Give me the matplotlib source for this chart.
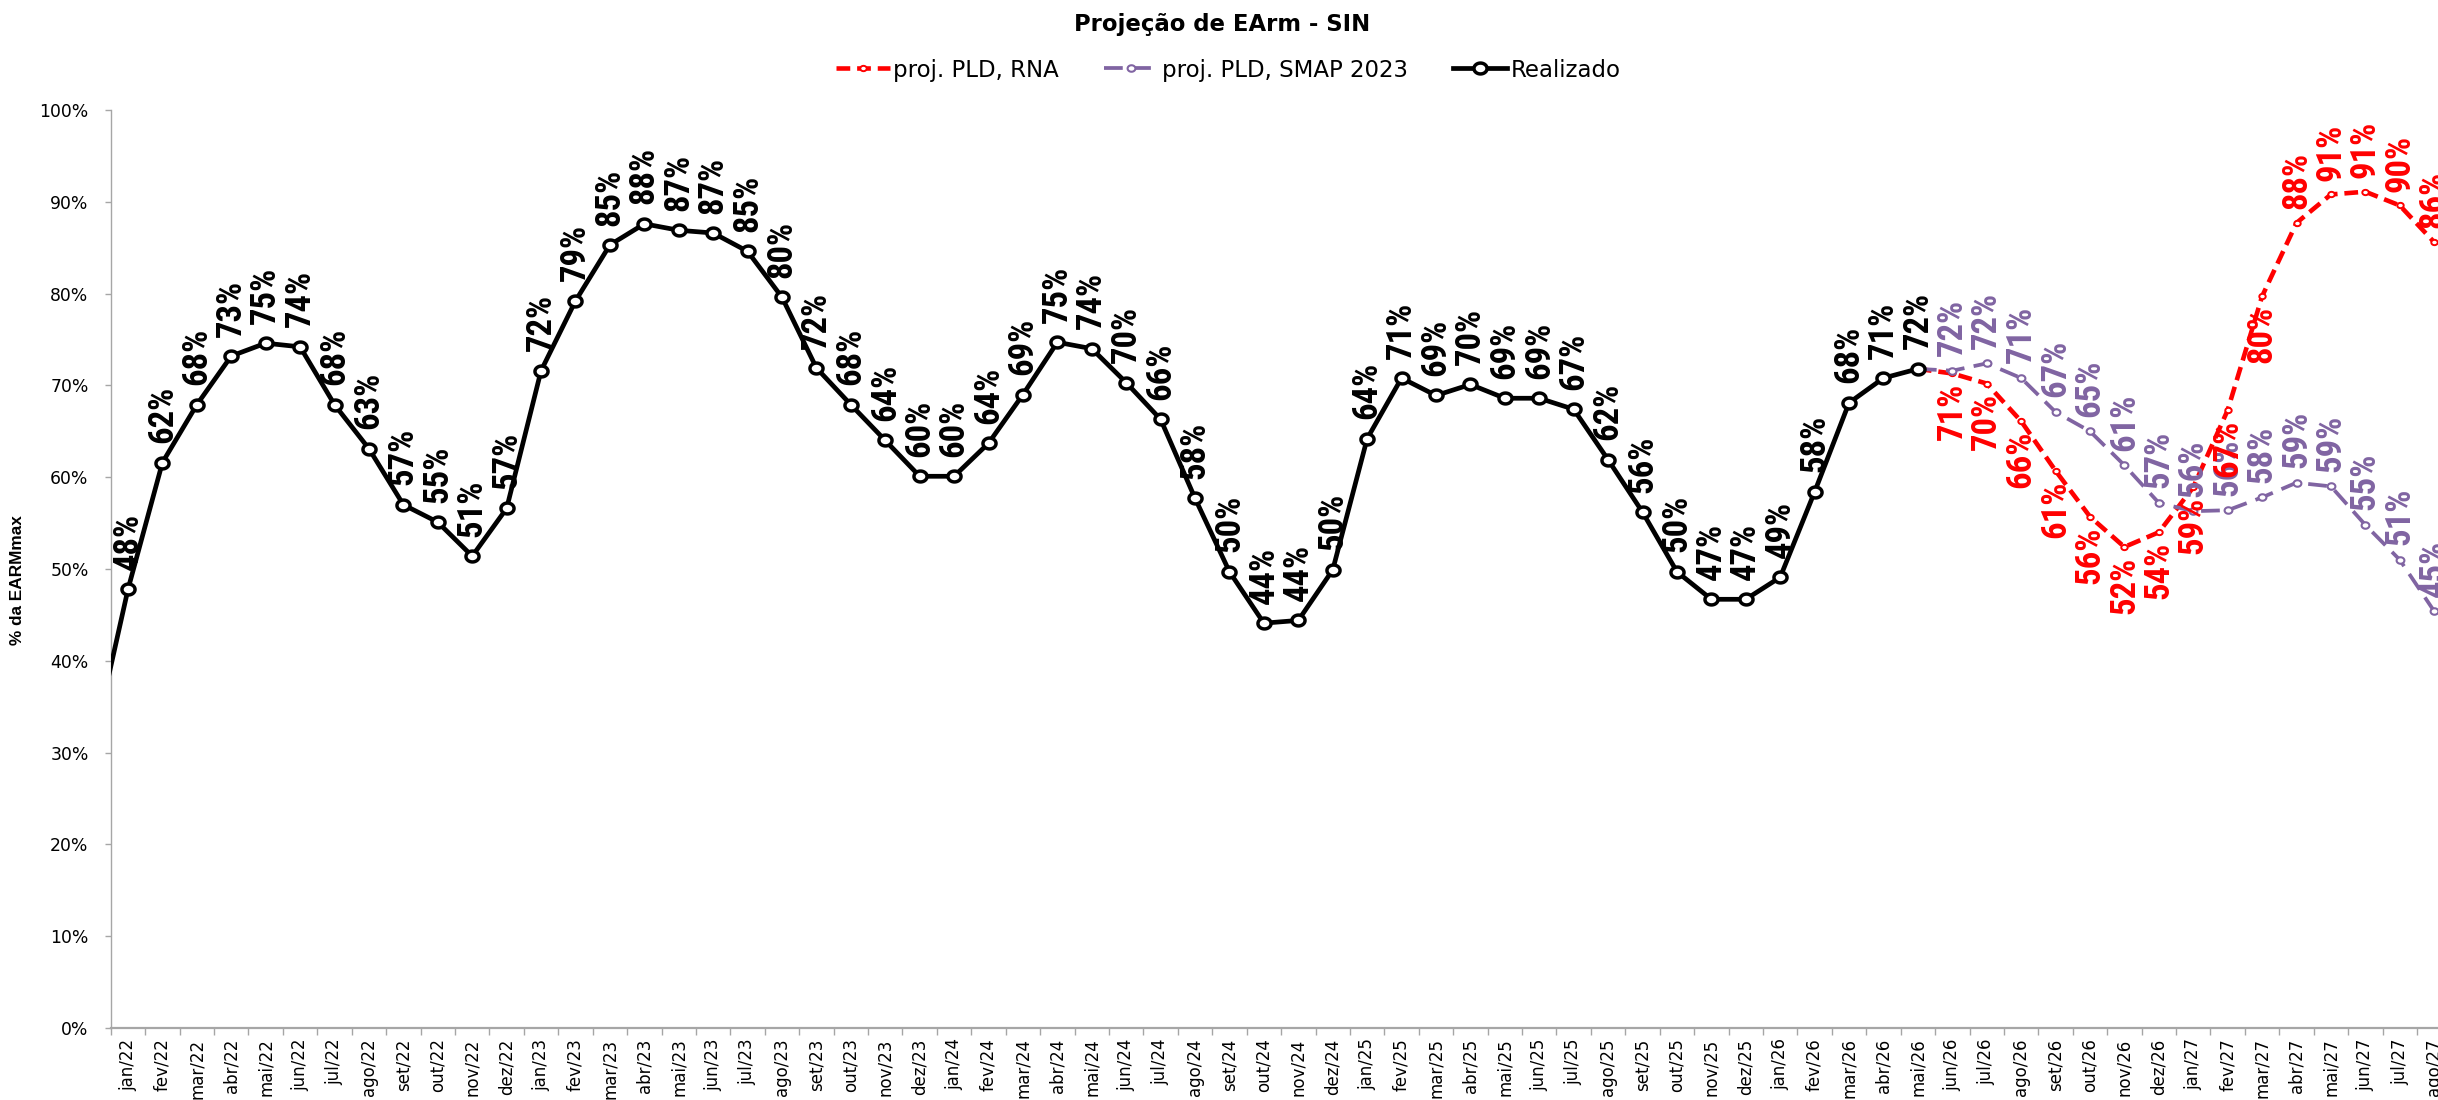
import numpy as np
import matplotlib
matplotlib.use("Agg")
import matplotlib.pyplot as plt
from matplotlib.path import Path
from matplotlib.textpath import TextPath
from matplotlib.font_manager import FontProperties, fontManager

# ---- data -------------------------------------------------------------
MONTHS = ["jan", "fev", "mar", "abr", "mai", "jun",
          "jul", "ago", "set", "out", "nov", "dez"]
YEARS = ["22", "23", "24", "25", "26", "27"]

# category axis: dez/21 ... ago/27
CATEGORIES = (["dez/21"] + [f"{m}/{y}" for y in YEARS for m in MONTHS])[:69]

# stored energy (% of EARMmax), dez/21 .. mai/26
REALIZADO = [31.0,
             47.8, 61.6, 67.9, 73.2, 74.6, 74.2, 67.9, 63.1, 57.0, 55.1, 51.4, 56.6,
             71.6, 79.2, 85.3, 87.6, 86.9, 86.6, 84.6, 79.6, 71.9, 67.9, 64.0, 60.1,
             60.1, 63.7, 69.0, 74.7, 74.0, 70.3, 66.3, 57.7, 49.7, 44.1, 44.4, 49.9,
             64.2, 70.8, 68.9, 70.1, 68.6, 68.6, 67.4, 61.9, 56.2, 49.7, 46.7, 46.7,
             49.1, 58.4, 68.1, 70.8, 71.8]

# projections, mai/26 .. ago/27
PROJ_RNA = [71.8, 71.3, 70.2, 66.1, 60.7, 55.7, 52.4, 54.0, 58.9,
            67.3, 79.7, 87.7, 90.8, 91.1, 89.6, 85.6]
PROJ_SMAP = [71.8, 71.6, 72.4, 70.8, 67.1, 65.0, 61.3, 57.2, 56.3,
             56.4, 57.8, 59.4, 59.0, 54.8, 51.0, 45.4]
# where the RNA labels sit relative to their points
RNA_LABEL_POS = ["none", "below", "below", "below", "below", "below", "below",
                 "below", "below", "below", "below", "above", "above", "above",
                 "above", "above"]

Y_TICKS = [0, 10, 20, 30, 40, 50, 60, 70, 80, 90, 100]

RED = "#FF0000"
PURPLE = "#8064A2"
GRAY = "#A6A6A6"

# ---- label font: prefer a narrow bold face, sized so "62%" is ~54 px long
installed = {f.name for f in fontManager.ttflist}
LABEL_FONT = next(f for f in ["Liberation Sans Narrow", "Roboto Condensed",
                              "Roboto", "Liberation Sans", "DejaVu Sans"]
                  if f in installed)
_probe = FontProperties(family=LABEL_FONT, weight="bold", size=100)
_ink = TextPath((0, 0), "62%", prop=_probe).get_extents().width
LABEL_SIZE = 100 * (54.0 * 72 / 100) / _ink

# slightly wide round marker
_t = np.linspace(0, 2 * np.pi, 73)
ROUND = Path(np.column_stack([1.2 * np.cos(_t), np.sin(_t)]), closed=True)

# ---- figure -----------------------------------------------------------
fig = plt.figure(figsize=(24.38, 11.0), dpi=100)
ax = fig.add_axes([110.8 / 2438, 1 - 1028 / 1100, 2340.6 / 2438, 918 / 1100])

x_all = np.arange(len(CATEGORIES))
x_real = x_all[:len(REALIZADO)]
start = len(REALIZADO) - 1
x_proj = x_all[start:start + len(PROJ_RNA)]

line_rna, = ax.plot(x_proj, PROJ_RNA, color=RED, lw=3.3, dashes=(3.0, 1.5),
                    marker=ROUND, ms=4.6, mew=1.4, mfc="white", mec=RED,
                    zorder=3, label="proj. PLD, RNA")
line_smap, = ax.plot(x_proj, PROJ_SMAP, color=PURPLE, lw=2.7, dashes=(5.0, 2.5),
                     marker=ROUND, ms=5.6, mew=1.5, mfc="white", mec=PURPLE,
                     zorder=3, label="proj. PLD, SMAP 2023")
line_real, = ax.plot(x_real, REALIZADO, color="black", lw=3.4,
                     marker=ROUND, ms=9.4, mew=2.5, mfc="white", mec="black",
                     zorder=4, label="Realizado")


def pct(v):
    return f"{int(v + 0.5)}%"


def put_label(x, v, color, offset):
    va = "bottom" if offset > 0 else "top"
    ax.annotate(pct(v), (x, v), xytext=(0, offset), textcoords="offset points",
                rotation=90, ha="center", va=va, color=color,
                fontfamily=LABEL_FONT, fontsize=LABEL_SIZE, fontweight="bold",
                clip_on=True, zorder=6)


for xi, v in zip(x_real[1:], REALIZADO[1:]):
    put_label(xi, v, "black", 14)
for xi, v in zip(x_proj[1:], PROJ_SMAP[1:]):
    put_label(xi, v, PURPLE, 10.5)
for xi, v, pos in zip(x_proj, PROJ_RNA, RNA_LABEL_POS):
    if pos == "above":
        put_label(xi, v, RED, 10)
    elif pos == "below":
        put_label(xi, v, RED, -7)

# ---- axes styling -----------------------------------------------------
ax.set_xlim(0.5, len(CATEGORIES) - 0.5)
ax.set_ylim(0, 100)

ax.set_xticks(x_all[1:])
ax.set_xticklabels(CATEGORIES[1:], rotation=90, fontfamily="DejaVu Sans",
                   fontsize=12.0, color="black")
ax.set_xticks(np.arange(0.5, len(CATEGORIES), 1.0), minor=True)
ax.tick_params(axis="x", which="major", length=0, pad=7.5)
ax.tick_params(axis="x", which="minor", length=5, width=1.0, color=GRAY,
               direction="out")

ax.set_yticks(Y_TICKS)
ax.set_yticklabels([f"{t}%" for t in Y_TICKS], fontfamily="DejaVu Sans",
                   fontsize=12.4)
ax.tick_params(axis="y", length=4, width=1.0, color=GRAY, pad=12)

for side in ("top", "right"):
    ax.spines[side].set_visible(False)
ax.spines["left"].set_color(GRAY)
ax.spines["left"].set_linewidth(1.0)
ax.spines["bottom"].set_color(GRAY)
ax.spines["bottom"].set_linewidth(1.6)

fig.text(17.5 / 2438, 1 - 580 / 1100, "% da EARMmax", rotation=90,
         ha="center", va="center", fontfamily="Liberation Sans",
         fontweight="bold", fontsize=12.4)

fig.text(1222 / 2438, 1 - 24 / 1100, "Projeção de EArm - SIN", ha="center",
         va="center", fontfamily="DejaVu Sans", fontweight="bold", fontsize=16.4)

fig.legend(handles=[line_rna, line_smap, line_real], loc="center",
           bbox_to_anchor=(1228 / 2438, 1 - 70 / 1100), ncol=3,
           frameon=False, prop={"family": "DejaVu Sans", "size": 16.5},
           handlelength=2.36, handletextpad=0.15, columnspacing=1.97)

fig.savefig("out.png", dpi=100, facecolor="white")
